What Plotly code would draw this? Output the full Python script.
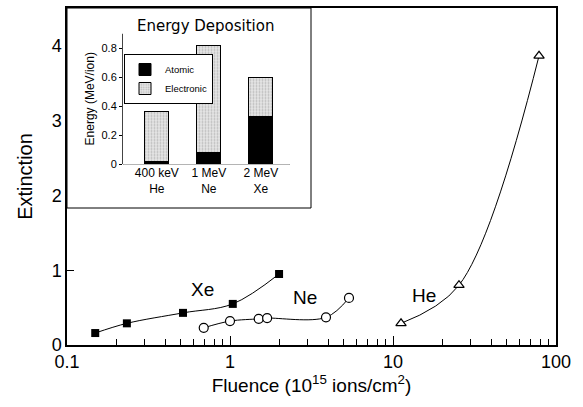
import math
import plotly.graph_objects as go

# ---------------- data ----------------
xe_fluence = [0.149, 0.233, 0.515, 1.04, 2.0]
xe_ext = [0.16, 0.29, 0.43, 0.55, 0.95]
ne_fluence = [0.69, 1.0, 1.5, 1.69, 3.88, 5.37]
ne_ext = [0.23, 0.32, 0.35, 0.36, 0.37, 0.63]
he_fluence = [11.2, 25.4, 78.7]
he_ext = [0.29, 0.80, 3.87]

ions = ["400 keV<br>He", "1 MeV<br>Ne", "2 MeV<br>Xe"]
atomic = [0.02, 0.076, 0.33]
electronic = [0.34, 0.744, 0.27]

x_tickvals = [0.1, 1, 10, 100]
x_ticktext = ["0.1", "1", "10", "100"]
y_tickvals = [0, 1, 2, 3, 4]
inset_y_tickvals = [0, 0.2, 0.4, 0.6, 0.8]
inset_y_ticktext = ["0", "0.2", "0.4", "0.6", "0.8"]

series_labels = ["Xe", "Ne", "He"]
label_fluence = [0.68, 2.9, 15.5]
label_ext = [0.74, 0.64, 0.66]

# ---------------- layout helpers ----------------
W, H = 583, 407
L, R, T, B = 67, 27, 8, 62
PW, PH = W - L - R, H - T - B


def px(x):
    return (x - L) / PW


def py(y):
    return (H - B - y) / PH


FONT = "Liberation Sans, Arial, sans-serif"
INSET_FONT = "DejaVu Sans, Verdana, sans-serif"

fig = go.Figure()

line_style = dict(color="black", width=1, shape="spline", smoothing=1.0)
fig.add_trace(go.Scatter(
    x=xe_fluence, y=xe_ext, mode="lines+markers", line=line_style,
    marker=dict(symbol="square", size=8, color="black"), showlegend=False,
    xaxis="x", yaxis="y"))
fig.add_trace(go.Scatter(
    x=ne_fluence, y=ne_ext, mode="lines+markers", line=line_style,
    marker=dict(symbol="circle", size=9, color="white",
                line=dict(color="black", width=1.2)), showlegend=False,
    xaxis="x", yaxis="y"))
fig.add_trace(go.Scatter(
    x=he_fluence, y=he_ext, mode="lines+markers", line=line_style,
    marker=dict(symbol="triangle-up", size=9, color="white",
                line=dict(color="black", width=1.2)), showlegend=False,
    xaxis="x", yaxis="y"))

# inset bars
fig.add_trace(go.Bar(
    x=[0, 1, 2], y=atomic, name="Atomic", width=0.46,
    marker=dict(color="black", line=dict(color="black", width=1)),
    xaxis="x2", yaxis="y2"))
fig.add_trace(go.Bar(
    x=[0, 1, 2], y=electronic, name="Electronic", width=0.46,
    marker=dict(color="#e6e6e6", line=dict(color="black", width=1),
                pattern=dict(shape=".", fgcolor="#8a8a8a", size=3, solidity=0.35)),
    xaxis="x2", yaxis="y2"))

shapes = [
    # inset box
    dict(type="rect", xref="paper", yref="paper", x0=px(67), x1=px(311),
         y0=py(208), y1=py(8), fillcolor="white", line=dict(color="black", width=1),
         layer="below"),
    # back wall
    dict(type="rect", xref="paper", yref="paper", x0=px(137), x1=px(280),
         y0=py(156), y1=py(40), line=dict(color="#444", width=0.8), layer="below"),
    # floor
    dict(type="path", xref="paper", yref="paper",
         path="M %f %f L %f %f L %f %f L %f %f Z" % (px(123), py(164), px(290), py(164),
                                                     px(280), py(156), px(137), py(156)),
         line=dict(color="#444", width=0.8), layer="below"),
    # top-left diagonal
    dict(type="line", xref="paper", yref="paper", x0=px(122), y0=py(34), x1=px(137), y1=py(40),
         line=dict(color="#444", width=0.8), layer="below"),
]

annotations = [
    dict(text="Energy Deposition", xref="paper", yref="paper", x=px(205), y=py(26),
         xanchor="center", yanchor="middle", showarrow=False,
         font=dict(size=15, family=INSET_FONT, color="black")),
]
for lab, fx, ey in zip(series_labels, label_fluence, label_ext):
    annotations.append(dict(text=lab, x=math.log10(fx), y=ey, xref="x", yref="y",
                            showarrow=False, font=dict(size=19, family=FONT, color="black")))

minor_x = [v * m for m in (0.1, 1, 10) for v in range(2, 10)]

fig.update_layout(
    width=W, height=H,
    margin=dict(l=L, r=R, t=T, b=B),
    paper_bgcolor="white", plot_bgcolor="white",
    font=dict(family=FONT, color="black"),
    barmode="stack",
    shapes=shapes,
    annotations=annotations,
    xaxis=dict(
        type="log", range=[-1, 2], domain=[0, 1], automargin=False,
        tickvals=x_tickvals, ticktext=x_ticktext,
        ticks="inside", ticklen=9, tickwidth=1, tickcolor="black",
        minor=dict(tickvals=minor_x, ticks="inside", ticklen=6, tickcolor="black", tickwidth=1),
        showline=True, linecolor="black", linewidth=1.5, mirror=True,
        showgrid=False, zeroline=False,
        tickfont=dict(size=18, family=FONT),
        title=dict(text="Fluence (10<sup>15</sup> ions/cm<sup>2</sup>)",
                   font=dict(size=19, family=FONT), standoff=6),
    ),
    yaxis=dict(
        range=[0, 4.51], domain=[0, 1], automargin=False,
        tickvals=y_tickvals,
        ticks="", showline=True, linecolor="black", linewidth=1.5, mirror=True,
        minor=dict(tickvals=[1], ticks="inside", ticklen=7, tickcolor="black", tickwidth=1),
        showgrid=False, zeroline=False,
        tickfont=dict(size=18, family=FONT),
        title=dict(text="Extinction", font=dict(size=20, family=FONT), standoff=14),
    ),
    xaxis2=dict(
        anchor="y2", domain=[px(123), px(290)], range=[-0.65, 2.56], automargin=False,
        tickvals=[0, 1, 2], ticktext=ions, ticks="", showline=False,
        showgrid=False, zeroline=False,
        tickfont=dict(size=12, family=FONT),
    ),
    yaxis2=dict(
        anchor="x2", domain=[py(164), py(33.5)], range=[0, 0.9], automargin=False,
        tickvals=inset_y_tickvals, ticktext=inset_y_ticktext,
        ticks="outside", ticklen=3, tickcolor="black",
        showline=True, linecolor="#444", linewidth=1,
        showgrid=False, zeroline=False,
        tickfont=dict(size=11, family=FONT),
        title=dict(text="Energy (MeV/ion)", font=dict(size=12, family=FONT), standoff=4),
    ),
    legend=dict(
        x=px(124), y=py(54), xanchor="left", yanchor="top",
        bgcolor="white", bordercolor="black", borderwidth=1,
        font=dict(size=9.5, family=FONT), traceorder="normal",
        itemwidth=30, tracegroupgap=0,
    ),
)

fig.write_html(
    "out.html",
    config={"displayModeBar": False},
    post_script="document.body.style.margin='0';document.body.style.overflow='hidden';",
)
